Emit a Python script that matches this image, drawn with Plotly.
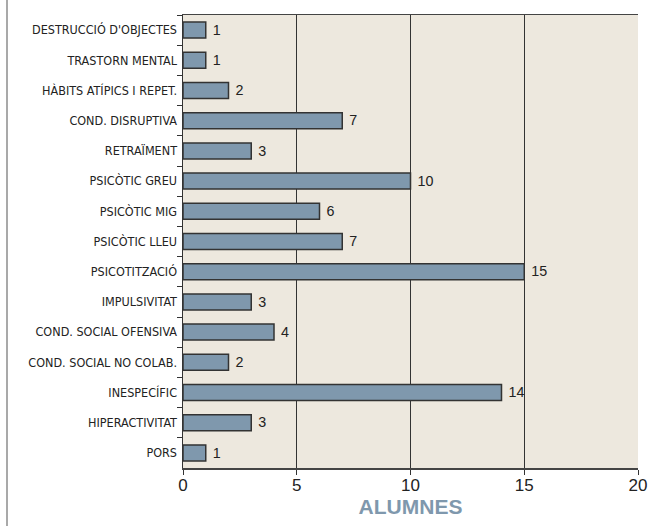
import plotly.graph_objects as go

categories = [
    "DESTRUCCIÓ D'OBJECTES",
    "TRASTORN MENTAL",
    "HÀBITS ATÍPICS I REPET.",
    "COND. DISRUPTIVA",
    "RETRAÏMENT",
    "PSICÒTIC GREU",
    "PSICÒTIC MIG",
    "PSICÒTIC LLEU",
    "PSICOTITZACIÓ",
    "IMPULSIVITAT",
    "COND. SOCIAL OFENSIVA",
    "COND. SOCIAL NO COLAB.",
    "INESPECÍFIC",
    "HIPERACTIVITAT",
    "PORS",
]
values = [1, 1, 2, 7, 3, 10, 6, 7, 15, 3, 4, 2, 14, 3, 1]
x_ticks = [0, 5, 10, 15, 20]

W, H = 649, 526
ml, mr, mt, mb = 183, 11, 15, 58

fig = go.Figure(
    go.Bar(
        y=categories,
        x=values,
        orientation="h",
        width=0.53,
        marker=dict(color="#7F98AD", line=dict(color="#333333", width=1.5)),
        text=[" " + str(v) for v in values],
        textposition="outside",
        textfont=dict(family="Liberation Sans, Arial, sans-serif", size=17, color="#222222"),
        cliponaxis=False,
        hoverinfo="skip",
    )
)

fig.update_layout(
    width=W,
    height=H,
    margin=dict(l=ml, r=mr, t=mt, b=mb, autoexpand=False),
    paper_bgcolor="white",
    plot_bgcolor="#EDE8DE",
    showlegend=False,
)

fig.update_yaxes(
    autorange="reversed",
    type="category",
    automargin=False,
    tickson="boundaries",
    ticks="outside",
    ticklen=5,
    tickcolor="#333333",
    showline=True,
    linecolor="#333333",
    linewidth=1.5,
    mirror=False,
    showgrid=False,
    tickfont=dict(family="DejaVu Sans Condensed, Liberation Sans Narrow, sans-serif",
                  size=12.5, color="#222222"),
    ticklabelstandoff=2,
)

fig.update_xaxes(
    range=[0, 20],
    automargin=False,
    tickvals=x_ticks,
    ticks="outside",
    ticklen=5,
    tickcolor="#333333",
    showline=True,
    linecolor="#444444",
    linewidth=1.5,
    mirror=True,
    showgrid=True,
    gridcolor="#333333",
    gridwidth=1.2,
    zeroline=False,
    ticklabelstandoff=-4,
    tickfont=dict(family="Liberation Sans, Arial, sans-serif", size=17, color="#222222"),
    title=dict(text="<b>ALUMNES</b>", standoff=2,
               font=dict(family="Liberation Sans, Arial, sans-serif", size=21, color="#7F98AD")),
)

# outer frame line on the left
plot_w = W - ml - mr
fig.add_shape(
    type="line", xref="paper", yref="paper",
    x0=(7 - ml) / plot_w, x1=(7 - ml) / plot_w,
    y0=-0.3, y1=1.3,
    line=dict(color="#8C8C8C", width=1.5),
)

fig.write_html(
    "out.html",
    config={"displayModeBar": False, "staticPlot": True},
    post_script="document.body.style.margin='0';document.body.style.overflow='hidden';",
)
